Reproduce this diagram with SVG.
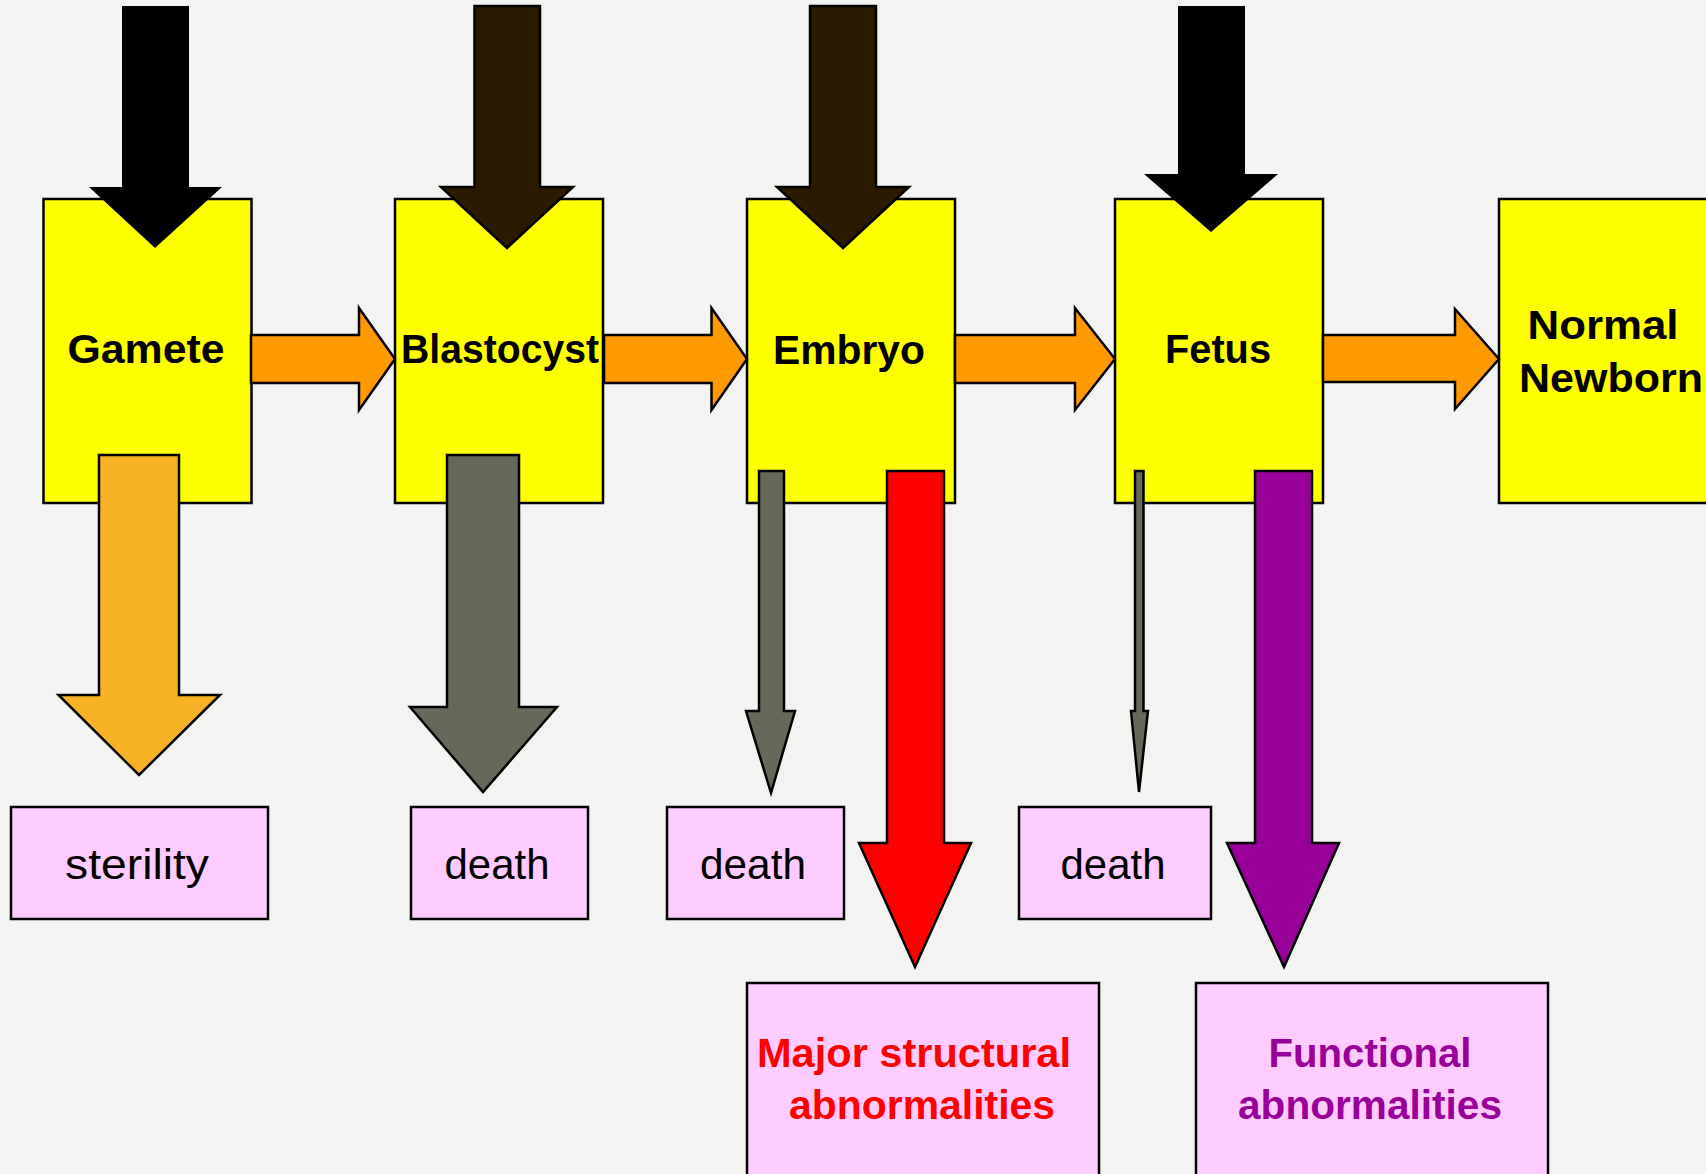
<svg xmlns="http://www.w3.org/2000/svg" width="1706" height="1174" viewBox="0 0 1706 1174">
<style>
.stage{fill:#ffff00;stroke:#000;stroke-width:2.5}
.out{fill:#ffccff;stroke:#000;stroke-width:2.5}
.lbl{font-family:"Liberation Sans",Arial,sans-serif;font-weight:bold;font-size:40px;fill:#000;text-anchor:middle}
.res{font-family:"Liberation Sans",Arial,sans-serif;font-size:42px;fill:#000;text-anchor:middle}
.arr{stroke:#000;stroke-width:2.5;stroke-linejoin:miter}
.orange{fill:#ff9900}
.brown{fill:#2b1a00}
.black{fill:#000}
.gold{fill:#f7b226}
.gray{fill:#666959}
</style>
<rect x="0" y="0" width="1706" height="1174" fill="#f3f3f1"/>
<g id="node-gamete"><rect class="stage" x="43.5" y="199" width="208" height="304"/><text class="lbl" x="146" y="363" textLength="157" lengthAdjust="spacingAndGlyphs">Gamete</text></g>
<g id="node-blastocyst"><rect class="stage" x="395" y="199" width="208" height="304"/><text class="lbl" x="500" y="363" textLength="198" lengthAdjust="spacingAndGlyphs">Blastocyst</text></g>
<g id="node-embryo"><rect class="stage" x="747" y="199" width="208" height="304"/><text class="lbl" x="849" y="364" textLength="152" lengthAdjust="spacingAndGlyphs">Embryo</text></g>
<g id="node-fetus"><rect class="stage" x="1115" y="199" width="208" height="304"/><text class="lbl" x="1218" y="363" textLength="106" lengthAdjust="spacingAndGlyphs">Fetus</text></g>
<g id="node-newborn"><rect class="stage" x="1499" y="199" width="215" height="304"/><text class="lbl" x="1603" y="339" textLength="151" lengthAdjust="spacingAndGlyphs">Normal</text><text class="lbl" x="1611" y="392" textLength="184" lengthAdjust="spacingAndGlyphs">Newborn</text></g>
<g id="node-sterility"><rect class="out" x="11" y="807" width="257" height="112"/><text class="res" x="137" y="879" textLength="144" lengthAdjust="spacingAndGlyphs">sterility</text></g>
<g id="node-death1"><rect class="out" x="411" y="807" width="177" height="112"/><text class="res" x="497" y="879" textLength="105" lengthAdjust="spacingAndGlyphs">death</text></g>
<g id="node-death2"><rect class="out" x="667" y="807" width="177" height="112"/><text class="res" x="753" y="879" textLength="106" lengthAdjust="spacingAndGlyphs">death</text></g>
<g id="node-death3"><rect class="out" x="1019" y="807" width="192" height="112"/><text class="res" x="1113" y="879" textLength="105" lengthAdjust="spacingAndGlyphs">death</text></g>
<g id="node-major"><rect class="out" x="747" y="983" width="352" height="200"/><text class="lbl" x="914" y="1067" fill="#ff0000" style="fill:#ff0000" textLength="314" lengthAdjust="spacingAndGlyphs">Major structural</text><text class="lbl" x="922" y="1119" style="fill:#ff0000" textLength="266" lengthAdjust="spacingAndGlyphs">abnormalities</text></g>
<g id="node-functional"><rect class="out" x="1196" y="983" width="352" height="200"/><text class="lbl" x="1370" y="1067" style="fill:#990099" textLength="203" lengthAdjust="spacingAndGlyphs">Functional</text><text class="lbl" x="1370" y="1119" style="fill:#990099" textLength="264" lengthAdjust="spacingAndGlyphs">abnormalities</text></g>
<g id="connectors">
<polygon class="black" points="122,6 189,6 189,187 222,187 155,248 89,187 122,187"/>
<polygon class="arr brown" points="474.5,6 540,6 540,187 573,187 507,248 441,187 474.5,187"/>
<polygon class="arr brown" points="810,6 876,6 876,187 909,187 843,248 777,187 810,187"/>
<polygon class="black" points="1178,6 1245,6 1245,174 1278,174 1211,232 1144,174 1178,174"/>
<polygon class="arr orange" points="251,335 359,335 359,308 395,359 359,410 359,383 251,383"/>
<polygon class="arr orange" points="604,335 711.5,335 711.5,308 747,359 711.5,410 711.5,383 604,383"/>
<polygon class="arr orange" points="955,335 1075,335 1075,308 1115,359 1075,410 1075,383 955,383"/>
<polygon class="arr orange" points="1323,335 1455,335 1455,309 1499,359 1455,409 1455,382 1323,382"/>
<polygon class="arr gold" points="99,455 179,455 179,695 220,695 139,775 58.5,695 99,695"/>
<polygon class="arr gray" points="447,455 519,455 519,707 557,707 483,792 410,707 447,707"/>
<polygon class="arr gray" points="759,471 784,471 784,711 795,711 771,793 746,711 759,711"/>
<polygon class="arr" style="fill:#ff0000" points="887,471 944,471 944,843 971,843 915,967 859,843 887,843"/>
<polygon class="arr gray" stroke-width="2" points="1135,471 1143.5,471 1143.5,711 1148,711 1139,792 1131,711 1135,711"/>
<polygon class="arr" style="fill:#990099" points="1255,471 1312,471 1312,843 1339,843 1284,967 1227,843 1255,843"/>
</g>
</svg>
